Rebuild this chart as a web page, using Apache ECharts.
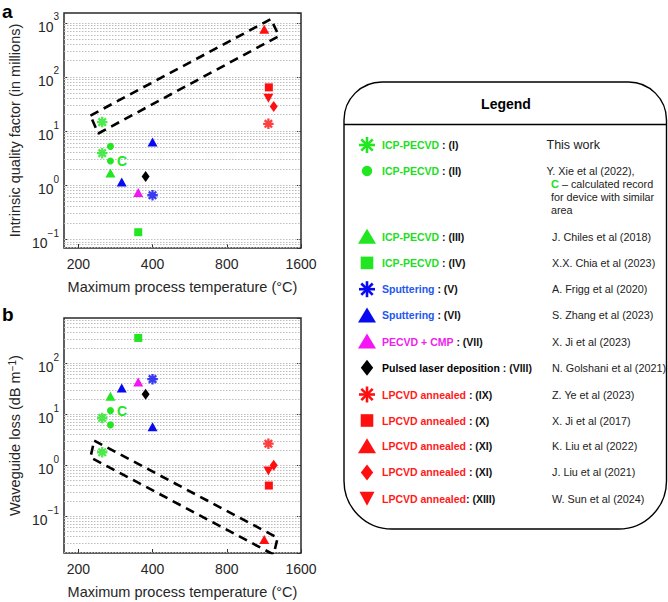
<!DOCTYPE html>
<html><head><meta charset="utf-8">
<script src="https://cdn.jsdelivr.net/npm/echarts@6/dist/echarts.min.js"></script>
<style>html,body{margin:0;padding:0;background:#fff}#c{width:668px;height:602px}</style>
</head><body><div id="c"></div>
<script>
// ---------- data ----------
const xTicks = [200, 400, 800, 1600];
// [max process temperature (°C), intrinsic Q (millions)]  /  [temperature, waveguide loss (dB/m)]
const icp1Q = [[250, 14.6], [250, 3.9]];
const icp1Loss = [[250, 1.8], [250, 8.5]];
const icp2Q = [[270, 5.2], [270, 2.8]];
const icp2QTags = ['', 'C'];
const icp2Loss = [[270, 6.2], [270, 11.8]];
const icp2LossTags = ['', 'C'];
const icp3Q = [[270, 1.68]];
const icp3Loss = [[270, 22.5]];
const icp4Q = [[350, 0.135]];
const icp4Loss = [[350, 315]];
const sput5Q = [[400, 0.65]];
const sput5Loss = [[400, 49]];
const sput6Q = [[300, 1.14], [400, 6.3]];
const sput6Loss = [[300, 33], [400, 5.7]];
const pecvd7Q = [[350, 0.73]];
const pecvd7Loss = [[350, 43]];
const pld8Q = [[375, 1.45]];
const pld8Loss = [[375, 24.7]];
const lp9Q = [[1180, 13.6]];
const lp9Loss = [[1180, 2.65]];
const lp10Q = [[1185, 64]];
const lp10Loss = [[1185, 0.40]];
const lp11TriQ = [[1135, 757]];
const lp11TriLoss = [[1135, 0.035]];
const lp11DiaQ = [[1240, 28.5]];
const lp11DiaLoss = [[1240, 1.0]];
const lp13Q = [[1180, 40.5]];
const lp13Loss = [[1180, 0.77]];
// dashed highlight boxes (data coordinates)
const boxA = [[224, 19.3], [1208, 1169], [1302, 569], [241, 9.0], [224, 19.3]];
const boxB = [[232, 3.05], [1286, 0.0377], [1239, 0.0177], [224, 1.43], [232, 3.05]];
// legend text
const legendMethods = ['ICP-PECVD', 'ICP-PECVD', 'ICP-PECVD', 'ICP-PECVD', 'Sputtering', 'Sputtering',
  'PECVD + CMP', 'Pulsed laser deposition', 'LPCVD annealed', 'LPCVD annealed', 'LPCVD annealed',
  'LPCVD annealed', 'LPCVD annealed'];
const legendTags = [' : (I)', ' : (II)', ' : (III)', ' : (IV)', ' : (V)', ' : (VI)', ' : (VII)', ' : (VIII)',
  ' : (IX)', ' : (X)', ' : (XI)', ' : (XI)', ': (XIII)'];
const legendRefs = ['This work', 'Y. Xie et al (2022),', 'J. Chiles et al (2018)', 'X.X. Chia et al (2023)',
  'A. Frigg et al (2020)', 'S. Zhang et al (2023)', 'X. Ji et al (2023)', 'N. Golshani et al (2021)',
  'Z. Ye et al (2023)', 'X. Ji et al (2017)', 'K. Liu et al (2022)', 'J. Liu et al (2021)', 'W. Sun et al (2024)'];
const xieNote = ['– calculated record', 'for device with similar', 'area'];

// ---------- styles ----------
const FONT = '"Liberation Sans", Arial, Helvetica, sans-serif';
const G = '#22e622', B = '#0a0af0', M = '#f414f4', K = '#000000', R = '#ff1010';
const GT = '#22dd22', BT = '#2258ee', MT = '#ee22ee', RT = '#ff1a1a';
const TXT = '#262626';
const ASTER = 'path://M0,-10L0,10M-10,0L10,0M-7.07,-7.07L7.07,7.07M-7.07,7.07L7.07,-7.07';

const groups = [
  {q: icp1Q, l: icp1Loss, s: 'aster', c: G},
  {q: icp2Q, l: icp2Loss, s: 'circle', c: G, qt: icp2QTags, lt: icp2LossTags},
  {q: icp3Q, l: icp3Loss, s: 'tri', c: G},
  {q: icp4Q, l: icp4Loss, s: 'sq', c: G},
  {q: sput5Q, l: sput5Loss, s: 'aster', c: B},
  {q: sput6Q, l: sput6Loss, s: 'tri', c: B},
  {q: pecvd7Q, l: pecvd7Loss, s: 'tri', c: M},
  {q: pld8Q, l: pld8Loss, s: 'dia', c: K},
  {q: lp9Q, l: lp9Loss, s: 'aster', c: R},
  {q: lp10Q, l: lp10Loss, s: 'sq', c: R},
  {q: lp11TriQ, l: lp11TriLoss, s: 'tri', c: R},
  {q: lp11DiaQ, l: lp11DiaLoss, s: 'dia', c: R},
  {q: lp13Q, l: lp13Loss, s: 'itri', c: R}
];
const symMap = {
  aster: {symbol: ASTER, size: 10.5},
  circle: {symbol: 'circle', size: 7},
  tri: {symbol: 'triangle', size: [10, 9]},
  sq: {symbol: 'rect', size: 8},
  dia: {symbol: 'diamond', size: [8, 11]},
  itri: {symbol: 'triangle', size: [10, 9], rotate: 180}
};

function supLabel(v) {
  const lg = Math.log10(v), e = Math.round(lg);
  if (Math.abs(lg - e) > 1e-6) return '';
  return '{b|10}{s|' + (e < 0 ? '−' + (-e) : e) + '}';
}
const supRich = {
  b: {fontSize: 14, color: TXT, fontFamily: FONT, lineHeight: 22, verticalAlign: 'bottom'},
  s: {fontSize: 10, color: TXT, fontFamily: FONT, lineHeight: 10, verticalAlign: 'top'}
};
function gridVals(min, max) {
  const out = [];
  for (let e = -3; e <= 4; e++) for (let m = 1; m <= 9; m++) {
    const v = m * Math.pow(10, e);
    if (v > min && v < max) out.push(v);
  }
  return out;
}

const yA = [0.069, 1514], yB = [0.019, 776];

function xAxisDef(gi) {
  return {
    type: 'log', logBase: 2, min: 175, max: 1600, gridIndex: gi,
    axisLine: {show: false},
    axisTick: {show: true, inside: true, length: 4, customValues: xTicks, lineStyle: {color: '#333'}},
    axisLabel: {customValues: xTicks, formatter: v => String(Math.round(v)), fontSize: 14, color: TXT, fontFamily: FONT, margin: 9},
    splitLine: {show: false}, minorTick: {show: false},
    name: 'Maximum process temperature (°C)', nameLocation: 'middle', nameGap: 31,
    nameTextStyle: {fontSize: 14.5, color: TXT, fontFamily: FONT}
  };
}
function yAxisDef(gi, ext, name, right) {
  const ax = {
    type: 'log', logBase: 10, min: ext[0], max: ext[1], gridIndex: gi, position: right ? 'right' : 'left',
    axisLine: {show: false},
    axisTick: {show: true, inside: true, length: 4, lineStyle: {color: '#333'}},
    axisLabel: right ? {show: false} : {formatter: supLabel, rich: supRich, margin: 5, showMinLabel: false, showMaxLabel: false},
    splitLine: {show: false}
  };
  if (!right) {
    ax.name = name; ax.nameLocation = 'middle'; ax.nameGap = 42; ax.nameRotate = 90;
    ax.nameTextStyle = {fontSize: 14.5, color: TXT, fontFamily: FONT,
      rich: {n: {fontSize: 14.5, color: TXT, fontFamily: FONT}, s: {fontSize: 10, color: TXT, fontFamily: FONT, verticalAlign: 'top', lineHeight: 10}}};
  }
  return ax;
}

const series = [];
function addScatter(g, data, tags, xi, yi) {
  const sm = symMap[g.s];
  const isAst = g.s === 'aster';
  series.push({
    type: 'scatter', xAxisIndex: xi, yAxisIndex: yi, z: 5,
    symbol: sm.symbol, symbolSize: sm.size, symbolRotate: sm.rotate || 0,
    itemStyle: isAst ? {color: g.c, borderColor: g.c, borderWidth: 2.3} : {color: g.c, opacity: 1},
    data: data.map((d, i) => {
      const t = tags ? tags[i] : '';
      return t ? {value: d, label: {show: true, formatter: t, position: 'right', distance: 3,
        color: G, fontWeight: 'bold', fontSize: 14, fontFamily: FONT}} : {value: d};
    })
  });
}
groups.forEach(g => {
  addScatter(g, g.q, g.qt, 0, 0);
  addScatter(g, g.l, g.lt, 1, 2);
});
function boxSeries(data, xi, yi, ext) {
  return {
    type: 'line', xAxisIndex: xi, yAxisIndex: yi, data: data, symbol: 'none', clip: true, z: 4,
    lineStyle: {color: '#000', width: 2.6, type: [9, 6]}, silent: true,
    markLine: {silent: true, symbol: 'none', z: 1, label: {show: false}, animation: false,
      lineStyle: {color: '#bdbdbd', type: [1.5, 1.5], width: 1},
      data: gridVals(ext[0], ext[1]).map(v => ({yAxis: v}))}
  };
}
series.push(boxSeries(boxA, 0, 0, yA));
series.push(boxSeries(boxB, 1, 2, yB));

// ---------- legend (graphic) ----------
const rowY = [145, 171, 236.7, 262.9, 289.2, 315.4, 341.6, 367.8, 394.5, 420.5, 446.3, 472.4, 498.7];
const rowKind = ['aster', 'circle', 'tri', 'sq', 'aster', 'tri', 'tri', 'dia', 'aster', 'sq', 'tri', 'dia', 'itri'];
const rowMarkColor = [G, G, G, G, B, B, M, K, R, R, R, R, R];
const rowTextColor = [GT, GT, GT, GT, BT, BT, MT, K, RT, RT, RT, RT, RT];
const els = [];
els.push({type: 'rect', shape: {x: 344, y: 82, width: 322.5, height: 447, r: [38, 38, 48, 48]},
  style: {fill: 'none', stroke: '#000', lineWidth: 1.4}});
els.push({type: 'line', shape: {x1: 344, y1: 124.5, x2: 666.5, y2: 124.5}, style: {stroke: '#000', lineWidth: 1.4}});
els.push({type: 'text', x: 506, y: 104, style: {text: 'Legend', fill: '#000', font: 'bold 14px ' + FONT, align: 'center', verticalAlign: 'middle'}});
function marker(kind, cx, cy, col) {
  if (kind === 'aster') {
    const r = 8, d = 5.7;
    [[0, -r, 0, r], [-r, 0, r, 0], [-d, -d, d, d], [-d, d, d, -d]].forEach(p => els.push({type: 'line',
      shape: {x1: cx + p[0], y1: cy + p[1], x2: cx + p[2], y2: cy + p[3]}, style: {stroke: col, lineWidth: 2.6}}));
  } else if (kind === 'circle') {
    els.push({type: 'circle', shape: {cx: cx, cy: cy, r: 5.2}, style: {fill: col}});
  } else if (kind === 'tri') {
    els.push({type: 'polygon', shape: {points: [[cx - 9, cy + 7], [cx + 9, cy + 7], [cx, cy - 8]]}, style: {fill: col}});
  } else if (kind === 'sq') {
    els.push({type: 'rect', shape: {x: cx - 6.3, y: cy - 6.3, width: 12.6, height: 12.6}, style: {fill: col}});
  } else if (kind === 'dia') {
    els.push({type: 'polygon', shape: {points: [[cx, cy - 8], [cx + 6.2, cy], [cx, cy + 8], [cx - 6.2, cy]]}, style: {fill: col}});
  } else if (kind === 'itri') {
    els.push({type: 'polygon', shape: {points: [[cx - 7.5, cy - 7], [cx + 7.5, cy - 7], [cx, cy + 7]]}, style: {fill: col}});
  }
}
rowY.forEach((y, i) => {
  marker(rowKind[i], 367, y, rowMarkColor[i]);
  els.push({type: 'text', x: 382, y: y, style: {
    text: '{m|' + legendMethods[i] + '}{k|' + legendTags[i] + '}',
    verticalAlign: 'middle', align: 'left',
    rich: {m: {fill: rowTextColor[i], fontWeight: 'bold', fontSize: 10.5, fontFamily: FONT},
           k: {fill: '#111', fontWeight: 'bold', fontSize: 10.5, fontFamily: FONT}}}});
  const first = i === 0;
  els.push({type: 'text', x: i < 2 ? 546.5 : 552, y: y, style: {
    text: legendRefs[i], fill: '#222', font: (first ? '12.5px ' : '10.8px ') + FONT,
    align: 'left', verticalAlign: 'middle'}});
});
xieNote.forEach((t, j) => {
  els.push({type: 'text', x: 551, y: 184.3 + j * 12.6, style: {
    text: j === 0 ? '{c|C} {t|' + t + '}' : t, fill: '#222', font: '10.8px ' + FONT,
    align: 'left', verticalAlign: 'middle',
    rich: {c: {fill: GT, fontWeight: 'bold', fontSize: 11, fontFamily: FONT}, t: {fill: '#222', fontSize: 10.8, fontFamily: FONT}}}});
});
els.push({type: 'text', x: 2, y: 2, style: {text: 'a', fill: '#000', font: 'bold 19px ' + FONT}});
els.push({type: 'text', x: 2, y: 305, style: {text: 'b', fill: '#000', font: 'bold 19px ' + FONT}});

const option = {
  animation: false,
  backgroundColor: '#fff',
  grid: [
    {left: 64, top: 13, width: 237, height: 235, show: true, borderColor: '#2a2a2a', borderWidth: 1.5, backgroundColor: 'transparent'},
    {left: 64, top: 318, width: 237, height: 235, show: true, borderColor: '#2a2a2a', borderWidth: 1.5, backgroundColor: 'transparent'}
  ],
  xAxis: [xAxisDef(0), xAxisDef(1)],
  yAxis: [
    yAxisDef(0, yA, 'Intrinsic quality factor (in millions)', false),
    yAxisDef(0, yA, '', true),
    yAxisDef(1, yB, '{n|Waveguide loss (dB m}{s|−1}{n|)}', false),
    yAxisDef(1, yB, '', true)
  ],
  series: series,
  graphic: {elements: els}
};
const chart = echarts.init(document.getElementById('c'), null, {renderer: 'svg'});
chart.setOption(option);
</script></body></html>
